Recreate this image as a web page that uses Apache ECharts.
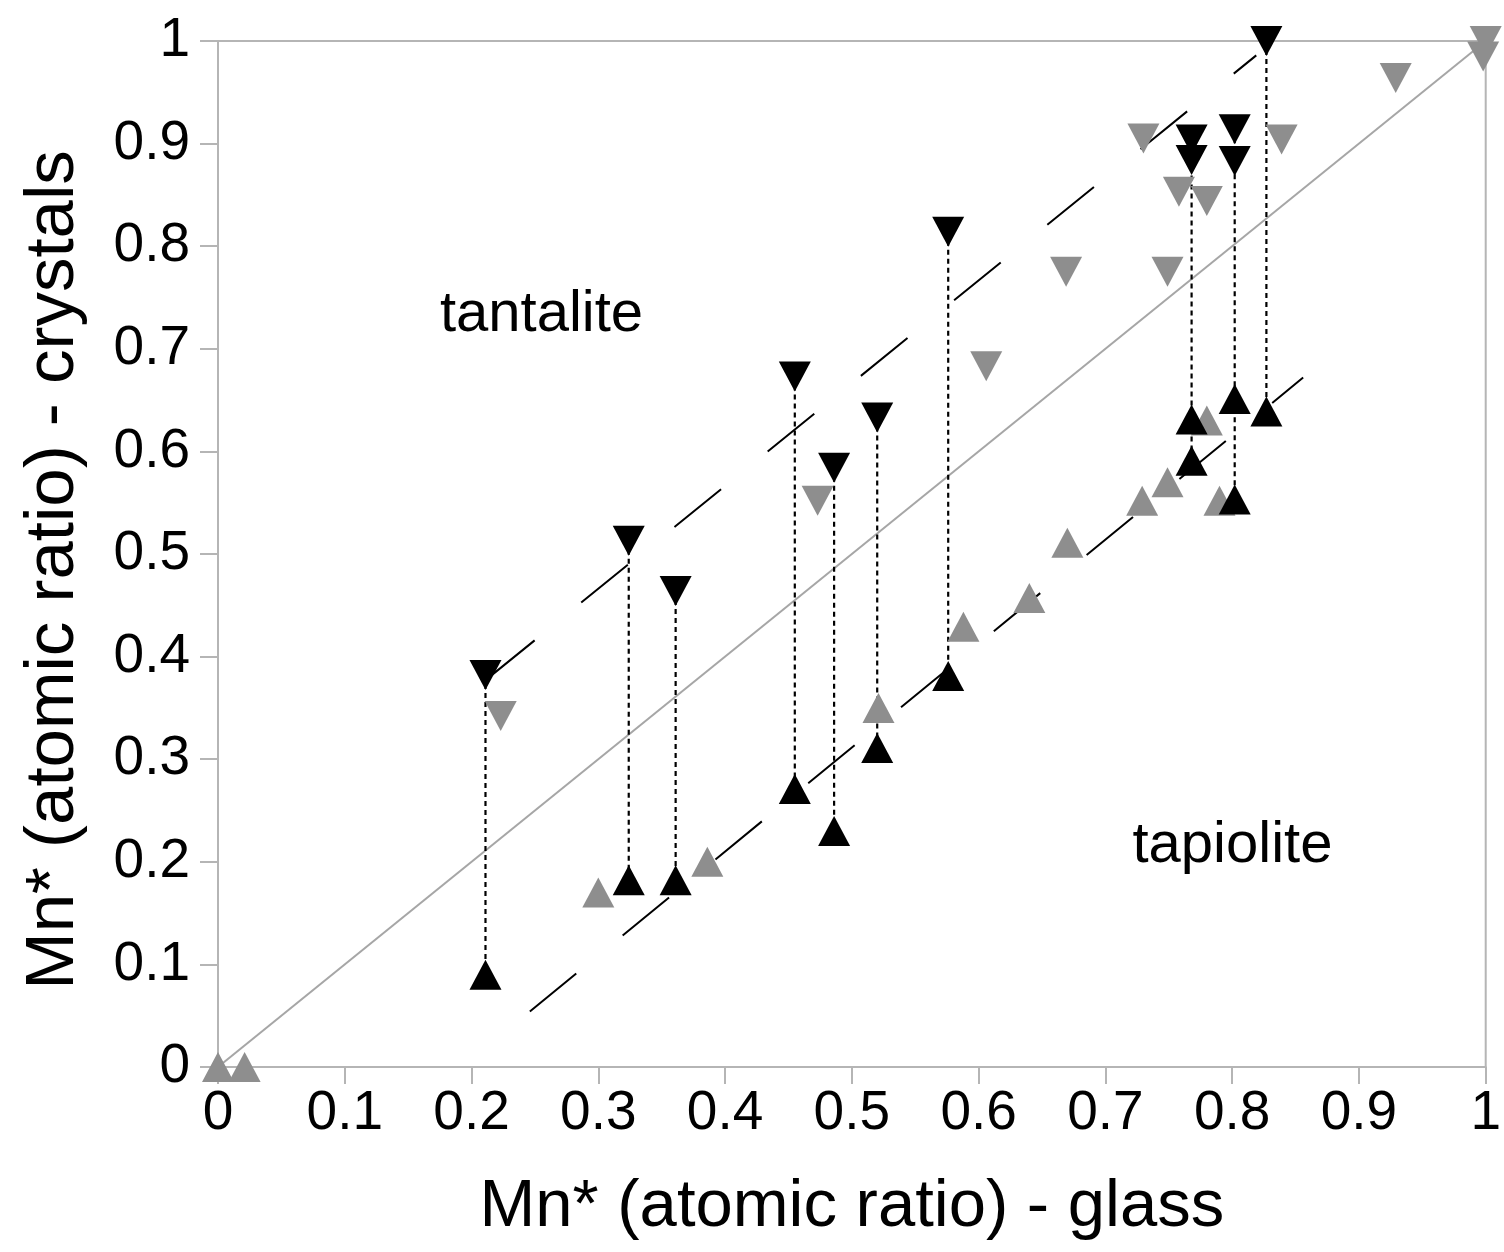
<!DOCTYPE html>
<html>
<head>
<meta charset="utf-8">
<script src="https://cdn.jsdelivr.net/npm/echarts@6/dist/echarts.min.js"></script>
<style>
html,body{margin:0;padding:0;background:#fff;}
#chart{width:1504px;height:1252px;}
</style>
</head>
<body>
<div id="chart"></div>
<script>
// ---- data ----
const xTickLabels = ['0','0.1','0.2','0.3','0.4','0.5','0.6','0.7','0.8','0.9','1'];
const yTickLabels = ['0','0.1','0.2','0.3','0.4','0.5','0.6','0.7','0.8','0.9','1'];

// paired analyses (same glass Mn*), black symbols joined by dotted lines
const pairGlass      = [0.211, 0.324, 0.361, 0.455, 0.486, 0.520, 0.576, 0.768, 0.768, 0.802, 0.802, 0.827];
const pairTantalite  = [0.382, 0.513, 0.464, 0.673, 0.584, 0.633, 0.814, 0.904, 0.884, 0.914, 0.883, 1.000];
const pairTapiolite  = [0.090, 0.182, 0.182, 0.271, 0.230, 0.311, 0.381, 0.631, 0.591, 0.651, 0.553, 0.639];

// other analyses (grey)
const greyTantaliteX = [0.223, 0.473, 0.606, 0.669, 0.730, 0.749, 0.758, 0.780, 0.839, 0.929, 1.000, 0.998];
const greyTantaliteY = [0.342, 0.552, 0.683, 0.775, 0.905, 0.775, 0.853, 0.844, 0.904, 0.964, 1.000, 0.985];
const greyTapioliteX = [0.000, 0.021, 0.300, 0.386, 0.521, 0.588, 0.640, 0.670, 0.729, 0.749, 0.780, 0.790];
const greyTapioliteY = [0.000, 0.000, 0.170, 0.200, 0.350, 0.429, 0.457, 0.511, 0.552, 0.570, 0.630, 0.552];

// reference lines
const identityLine = [[0, 0], [1, 1]];
const upperTrend   = [[0.213, 0.379], [0.819, 0.986]];
const lowerTrend   = [[0.246, 0.054], [0.856, 0.672]];

// field labels
const fieldNames = ['tantalite', 'tapiolite'];
const fieldX     = [0.256, 0.801];
const fieldY     = [0.732, 0.214];

// ---- build options ----
const zip = (a, b) => a.map((v, i) => [v, b[i]]);
const FONT = '"Liberation Sans", Arial, Helvetica, sans-serif';
const GRID = '#b5b5b5';

// one dotted connector per distinct glass value, spanning all its crystals
const groups = {};
pairGlass.forEach((x, i) => {
  const k = x.toFixed(3);
  if (!groups[k]) groups[k] = { x: x, ys: [] };
  groups[k].ys.push(pairTantalite[i], pairTapiolite[i]);
});
const connectorSeries = Object.values(groups).map(g => ({
  type: 'line', silent: true, symbol: 'none', z: 3,
  data: [[g.x, Math.max(...g.ys)], [g.x, Math.min(...g.ys)]],
  lineStyle: { color: '#000', width: 2.2, type: [5, 4] }
}));

const tri = [32, 30];

const option = {
  animation: false,
  backgroundColor: '#fff',
  textStyle: { fontFamily: FONT },
  grid: { left: 218, right: 11, top: 41, bottom: 185, show: true, borderColor: GRID, borderWidth: 2 },
  xAxis: {
    type: 'value', min: 0, max: 1, interval: 0.1,
    name: 'Mn* (atomic ratio) - glass', nameLocation: 'middle', nameGap: 107,
    nameTextStyle: { fontSize: 67, color: '#000', fontFamily: FONT },
    axisLine: { show: true, lineStyle: { color: GRID, width: 2 } },
    axisTick: { show: true, length: 17, lineStyle: { color: GRID, width: 2 } },
    splitLine: { show: false },
    axisLabel: { fontSize: 55, color: '#000', margin: 19, fontFamily: FONT,
      formatter: v => xTickLabels[Math.round(v * 10)] }
  },
  yAxis: {
    type: 'value', min: 0, max: 1, interval: 0.1,
    name: 'Mn* (atomic ratio) - crystals', nameLocation: 'middle', nameGap: 130, nameRotate: 90,
    nameTextStyle: { fontSize: 69, color: '#000', fontFamily: FONT, padding: [0, 32, 0, 0] },
    axisLine: { show: true, lineStyle: { color: GRID, width: 2 } },
    axisTick: { show: true, length: 18, lineStyle: { color: GRID, width: 2 } },
    splitLine: { show: false },
    axisLabel: { fontSize: 55, color: '#000', margin: 28, fontFamily: FONT,
      formatter: v => yTickLabels[Math.round(v * 10)] }
  },
  series: [
    { type: 'line', silent: true, symbol: 'none', z: 2, data: identityLine,
      lineStyle: { color: '#a6a6a6', width: 2 } },
    { type: 'line', silent: true, symbol: 'none', z: 2, data: upperTrend,
      lineStyle: { color: '#000', width: 2, type: [60, 60] } },
    { type: 'line', silent: true, symbol: 'none', z: 2, data: lowerTrend,
      lineStyle: { color: '#000', width: 2, type: [60, 60] } },
    ...connectorSeries,
    { type: 'scatter', z: 4, symbol: 'triangle', symbolRotate: 180, symbolSize: tri,
      data: zip(greyTantaliteX, greyTantaliteY), itemStyle: { color: '#8e8e8e', opacity: 1 } },
    { type: 'scatter', z: 4, symbol: 'triangle', symbolSize: tri,
      data: zip(greyTapioliteX, greyTapioliteY), itemStyle: { color: '#8e8e8e', opacity: 1 } },
    { type: 'scatter', z: 5, symbol: 'triangle', symbolSize: tri,
      data: zip(pairGlass, pairTapiolite), itemStyle: { color: '#000', opacity: 1 } },
    { type: 'scatter', z: 5, symbol: 'triangle', symbolRotate: 180, symbolSize: tri,
      data: zip(pairGlass, pairTantalite), itemStyle: { color: '#000', opacity: 1 } },
    { type: 'scatter', z: 6, silent: true, symbol: 'circle', symbolSize: 2,
      itemStyle: { color: 'rgba(0,0,0,0)' },
      data: fieldNames.map((n, i) => ({ name: n, value: [fieldX[i], fieldY[i]] })),
      label: { show: true, position: [0, 0], align: 'center', verticalAlign: 'middle',
        formatter: p => p.name, fontSize: 58, color: '#000', opacity: 1,
        textBorderWidth: 0, fontFamily: FONT } }
  ]
};

const chart = echarts.init(document.getElementById('chart'), null, { renderer: 'canvas' });
chart.setOption(option);
</script>
</body>
</html>
